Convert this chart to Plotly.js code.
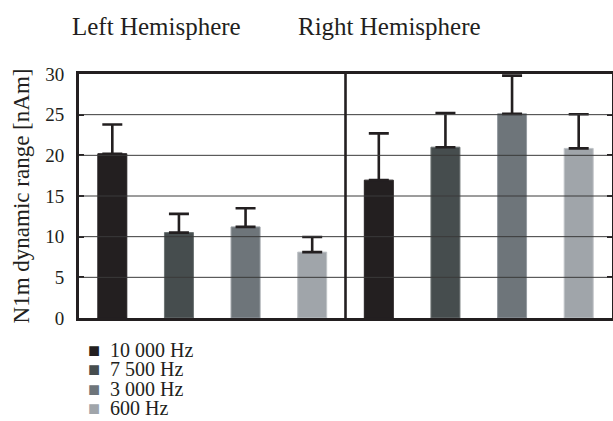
<!DOCTYPE html>
<html>
<head>
<meta charset="utf-8">
<script src="https://cdn.plot.ly/plotly-3.0.1.min.js"></script>
<style>
html,body{margin:0;padding:0;background:#fff}
#chart svg text{font-family:"Liberation Serif","Times New Roman",serif !important}
</style>
</head>
<body>
<div id="chart" style="width:613px;height:421px"></div>
<script>
// ---- data ----
const hemispheres = ["Left Hemisphere", "Right Hemisphere"];
const frequencies = ["10 000 Hz", "7 500 Hz", "3 000 Hz", "600 Hz"];
const leftValues  = [20.2, 10.5, 11.2, 8.1];
const leftErrors  = [3.6, 2.3, 2.3, 1.85];
const rightValues = [16.95, 21.0, 25.1, 20.85];
const rightErrors = [5.75, 4.2, 4.7, 4.2];
const yTicks = [0, 5, 10, 15, 20, 25, 30];

// ---- style ----
const barColors = ["#231f20", "#464d4e", "#6e757a", "#a0a5aa"];
const barBorders = ["#231f20", "#6c7373", "#959ba0", "#bfc3c7"];
const inkColor = "#231f20";
const serifFamily = "Liberation Serif, DejaVu Serif, serif";

const nPer = frequencies.length;
const traces = frequencies.map((f, i) => ({
  type: "bar",
  name: f,
  x: [i, nPer + i],
  y: [leftValues[i], rightValues[i]],
  width: 0.435,
  marker: {color: barColors[i], line: {color: barBorders[i], width: 1}},
  error_y: {type: "data", symmetric: false, array: [leftErrors[i], rightErrors[i]],
            arrayminus: [0, 0], color: inkColor, thickness: 2.6, width: 10},
  showlegend: false,
  hoverinfo: "y"
}));

const shapes = [];
yTicks.filter(t => t > yTicks[0] && t < yTicks[yTicks.length - 1]).forEach(t => {
  shapes.push({type: "line", xref: "paper", yref: "y", x0: 0, x1: 1, y0: t, y1: t,
               line: {color: "#3a3a3a", width: 1}, layer: "above"});
});
shapes.push({type: "line", xref: "x", yref: "paper", x0: nPer - 0.5, x1: nPer - 0.5, y0: 0, y1: 1,
             line: {color: inkColor, width: 2.6}, layer: "above"});

const ml = 79, mr = 1, mt = 74, mb = 103;
const plotW = 613 - ml - mr, plotH = 421 - mt - mb;
const px2x = p => (p - ml) / plotW;
const px2y = p => (421 - mb - p) / plotH;

const annotations = [];
const titleCenters = [156, 389];
hemispheres.forEach((h, k) => {
  annotations.push({text: h, xref: "paper", yref: "paper", x: px2x(titleCenters[k]), y: px2y(27),
    xanchor: "center", yanchor: "middle", showarrow: false,
    font: {family: serifFamily, size: 25, color: inkColor}});
});
frequencies.forEach((f, i) => {
  annotations.push({
    text: '<span style="color:' + barColors[i] + ';font-size:20px">■</span>\u2002' + f,
    xref: "paper", yref: "paper", x: px2x(86), y: px2y(349.5 + i * 19.6),
    xanchor: "left", yanchor: "middle", showarrow: false,
    font: {family: serifFamily, size: 20, color: inkColor}
  });
});

const layout = {
  width: 613, height: 421,
  margin: {l: ml, r: mr, t: mt, b: mb, pad: 0},
  paper_bgcolor: "#fff", plot_bgcolor: "#fff",
  barmode: "overlay",
  font: {family: serifFamily, color: inkColor},
  xaxis: {range: [-0.5, 2 * nPer - 0.5], showticklabels: false, ticks: "", showgrid: false,
          zeroline: false, showline: true, mirror: true, linecolor: inkColor, linewidth: 2.6,
          fixedrange: true},
  yaxis: {range: [yTicks[0], yTicks[yTicks.length - 1]], tickvals: yTicks, ticktext: yTicks.map(String),
          ticks: "inside", ticklen: 5, tickwidth: 2, tickcolor: inkColor,
          showline: true, linewidth: 3, linecolor: inkColor, mirror: "ticks",
          showgrid: false, zeroline: false, ticklabelstandoff: 8,
          tickfont: {family: serifFamily, size: 19, color: inkColor},
          title: {text: "N1m dynamic range [nAm]", font: {family: serifFamily, size: 23, color: inkColor}, standoff: 10},
          fixedrange: true},
  shapes: shapes,
  annotations: annotations
};

Plotly.newPlot("chart", traces, layout, {displayModeBar: false, staticPlot: true});
</script>
</body>
</html>
